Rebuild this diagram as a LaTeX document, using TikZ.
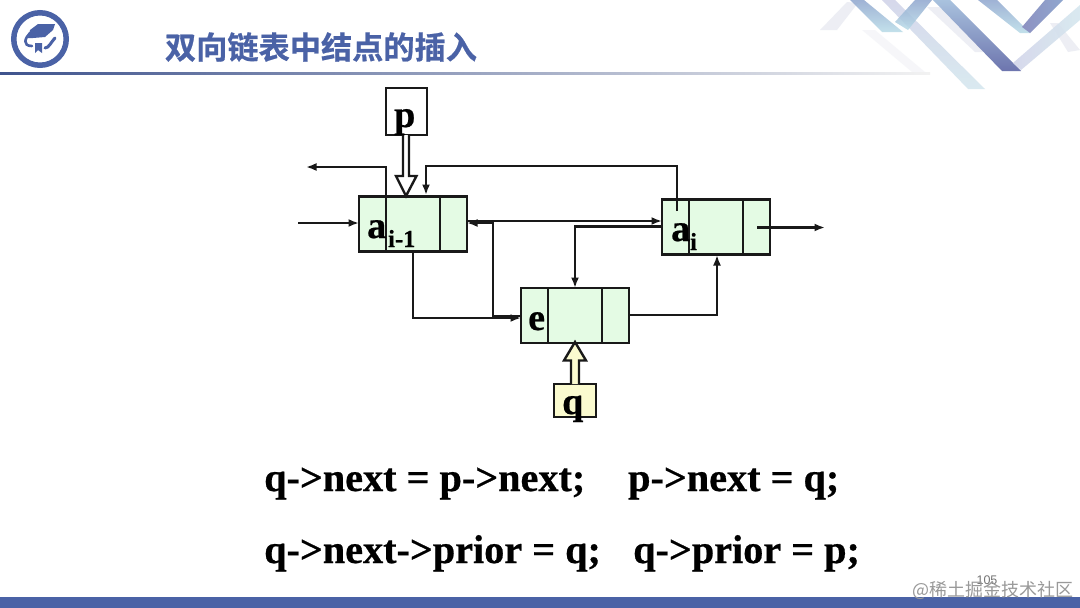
\documentclass[tikz,border=0pt]{standalone}
\usepackage{fontspec}
\setmainfont{Liberation Serif}
\newfontfamily\heavy[FakeBold=0.6]{Liberation Serif Bold}
\newfontfamily\cjkbold[FakeBold=0.7]{Noto Sans CJK SC Bold}
\newfontfamily\cjkreg{Noto Sans CJK SC}
\newfontfamily\sansreg{Liberation Sans}
\usetikzlibrary{arrows.meta}
\definecolor{navy}{HTML}{4A62A6}
\definecolor{cellgreen}{HTML}{E4FBE4}
\definecolor{qyellow}{HTML}{FBFBCF}
\definecolor{bandA}{HTML}{A9C2DE}
\definecolor{bandB}{HTML}{6D75AE}
\definecolor{bandC}{HTML}{8FA6CE}
\definecolor{bandD}{HTML}{B9DCE8}
\definecolor{bandE}{HTML}{CFD2E8}
\definecolor{bandF}{HTML}{D3E6EE}
\definecolor{bandG}{HTML}{8E92C2}
\definecolor{bandH}{HTML}{E6E8F0}
\tikzset{
  cell/.style={draw=black!90,line width=2.3pt,fill=cellgreen,inner sep=0pt,outer sep=0pt,minimum height=55pt},
  sidecell/.style={cell,minimum width=27pt},
  midcell/.style={cell,minimum width=54pt},
  ptrbox/.style={draw=black!90,line width=2.4pt,inner sep=0pt,outer sep=0pt},
  big/.style={font=\fontsize{38}{38}\selectfont\heavy,inner sep=0pt,anchor=base west,text=black},
  small/.style={font=\fontsize{24.5}{24}\selectfont\heavy,inner sep=0pt,anchor=base west,text=black},
  code/.style={font=\fontsize{40.2}{40}\selectfont\heavy,inner sep=0pt,anchor=base west,text=black},
  link/.style={draw=black!90,line width=2.2pt,-{Latex[length=10.5pt,width=8pt]}},
  band/.style={draw=none,opacity=.85},
  faint/.style={fill=bandH,opacity=.7},
}
\begin{document}
\begin{tikzpicture}[x=1pt,y=-1pt]
\useasboundingbox (0,0) rectangle (1080,608);
\fill[white] (0,0) rectangle (1080,608);
% decoration top right
\fill[faint] (820,30)--(837,30)--(858,3)--(847,2)--cycle;
\fill[faint] (927,7)--(940,7)--(990,52)--(975,52)--cycle;
\fill[faint] (1050,23)--(1058,23)--(1080,50)--(1068,52)--cycle;
\fill[faint,opacity=.35] (862,30)--(875,30)--(925,72)--(912,72)--cycle;
\shade[band,top color=bandC,bottom color=bandD] (850,0)--(864,0)--(903,32)--(882,32)--cycle;
\shade[band,top color=bandE,bottom color=bandF] (882,0)--(895,0)--(985,89)--(968,89)--cycle;
\shade[band,top color=bandC,bottom color=bandD] (932,0)--(915,0)--(895,22)--(908,30)--cycle;
\shade[top color=bandA,bottom color=bandB] (933,0)--(950,0)--(1021,71)--(1002,71)--cycle;
\shade[band,top color=bandC,bottom color=bandD] (978,0)--(997,0)--(1030,33)--(1020,33)--cycle;
\shade[left color=bandG,right color=bandC] (1063,0)--(1045,0)--(1022,27)--(1030,33)--cycle;
\shade[band,left color=bandE,right color=bandF] (1080,5)--(1080,20)--(1021,70)--(1013,63)--cycle;
% header
\shade[left color=navy!85!black,middle color=navy!45!white,right color=black!5] (0,72) rectangle (930,74.5);
% title
\node[font=\fontsize{31.2}{31}\selectfont\cjkbold,text=navy,inner sep=0pt] (title) at (321,47) {双向链表中结点的插入};
% logo
\node[circle,draw=navy,line width=5.5pt,minimum size=52.5pt,inner sep=0pt] (logo) at (40,39) {};
\fill[navy] (30,30)--(38,24)--(55,24)--(53,30)--(45,37)--(33,38)--(28,38)--cycle;
\fill[navy] (35,43)--(42,43)--(42,53)--(38,50)--(35,53)--cycle;
\draw[navy,line width=2.6pt,line cap=round] (30,33)..controls (25,38) and (22,46) .. (32,46);
\draw[navy,line width=3pt,line cap=round] (45,48)..controls (49,48) and (51,42) .. (55,38);
% bottom bar
\fill[navy] (0,597) rectangle (1080,608);
% cells of the list
\node[sidecell,anchor=north west] (aL) at (359,196.5) {};
\node[midcell,anchor=west] (aM) at (aL.east) {};
\node[sidecell,anchor=west] (aR) at (aM.east) {};
\node[sidecell,anchor=north west] (bL) at (662,199.5) {};
\node[midcell,anchor=west] (bM) at (bL.east) {};
\node[sidecell,anchor=west] (bR) at (bM.east) {};
\node[sidecell,anchor=north west] (eL) at (521,288) {};
\node[midcell,anchor=west] (eM) at (eL.east) {};
\node[sidecell,anchor=west] (eR) at (eM.east) {};
% pointer boxes
\node[ptrbox,minimum width=41pt,minimum height=47pt,anchor=north west] (p) at (386,88) {};
\node[ptrbox,fill=qyellow,minimum width=42pt,minimum height=33pt,anchor=north west] (q) at (554,384) {};
% hollow arrows
\draw[draw=black!90,line width=2.4pt,fill=white,line join=miter]
  (403,135)--(403,176)--(396,176)--(406,196)--(416.5,176)--(409,176)--(409,135);
\draw[draw=black!90,line width=2.4pt,fill=qyellow,line join=miter]
  (571,384)--(571,360.5)--(564,360.5)--(575,342)--(586,360.5)--(579,360.5)--(579,384);
% free ends
\coordinate (leftin) at (298,223);
\coordinate (leftout) at (306,167);
\coordinate (rightout) at (825,227.5);
\coordinate (bin) at (757,227.5);
\coordinate (aTopIn) at (426,195);
\coordinate (cornerA) at (426,166);
\coordinate (bUp) at (677,211);
\coordinate (bUpTop) at (677,166);
\coordinate (aOut) at (467,221);
\coordinate (bIn) at (662,221);
\coordinate (bOut) at (662,226.5);
\coordinate (ecorner) at (575,226.5);
\coordinate (eTop) at (575,288);
\coordinate (aDown) at (413,251);
\coordinate (aDownC) at (413,318);
\coordinate (eIn) at (521,318);
\coordinate (eBack) at (521,316);
\coordinate (backC) at (493,316);
\coordinate (backUp) at (493,223);
\coordinate (aBack) at (467,223);
\coordinate (eOut) at (629,315);
\coordinate (bBelowC) at (717,315);
\coordinate (bBelow) at (717,255);
% connectors
\draw[link] (leftin) -- (aL.west |- leftin);
\draw[link] (aL.north east) |- (leftout);
\draw[link] (bUp) -- (bUpTop) -- (cornerA) -- (aTopIn);
\draw[link] (aOut) -- (bIn);
\draw[link] (bOut) -- (ecorner) -- (eTop);
\draw[link] (aDown) -- (aDownC) -- (eIn);
\draw[link] (eBack) -- (backC) -- (backUp) -- (aBack);
\draw[link] (eOut) -- (bBelowC) -- (bBelow);
\draw[link] (bin) -- (rightout);
% labels
\node[big] (plabel) at (394,127) {p};
\node[big] (qlabel) at (562,414) {q};
\node[big] (alabel) at (367,238) {a};
\node[small] (asub) at (388,247) {i-1};
\node[big] (blabel) at (671,241) {a};
\node[small] (bsub) at (690,250) {i};
\node[big] (elabel) at (528,330) {e};
% code
\node[code] (l1a) at (264,491) {q->next = p->next;};
\node[code] (l1b) at (628,491) {p->next = q;};
\node[code] (l2a) at (264,563) {q->next->prior = q;};
\node[code] (l2b) at (633,563) {q->prior = p;};
% page number and watermark
\node[font=\fontsize{12.5}{12.5}\selectfont\sansreg,text=black!55,inner sep=0pt] (page) at (987,580) {105};
\node[font=\fontsize{18}{18}\selectfont\cjkreg,text=black!40,inner sep=0pt,anchor=east] (mark) at (1074,590) {@稀土掘金技术社区};
\end{tikzpicture}
\end{document}
